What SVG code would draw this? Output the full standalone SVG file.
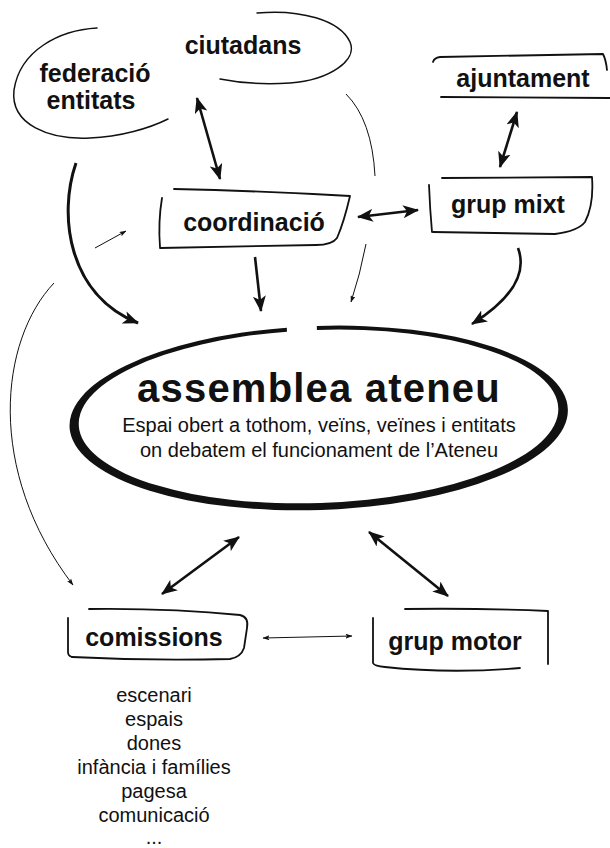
<svg xmlns="http://www.w3.org/2000/svg" width="610" height="848" viewBox="0 0 610 848">
<defs>
<style>
.lbl{font-family:"Liberation Sans",Arial,Helvetica,sans-serif;font-weight:bold;font-size:25px;fill:#111;text-anchor:middle}
.txt{font-family:"Liberation Sans",Arial,Helvetica,sans-serif;font-size:20px;fill:#111;text-anchor:middle}
.title{font-family:"Liberation Sans",Arial,Helvetica,sans-serif;font-weight:bold;font-size:40px;letter-spacing:1.2px;fill:#111;text-anchor:middle}
.shape{fill:none;stroke:#111;stroke-width:1.8;stroke-linecap:round;stroke-linejoin:round}
.bub{fill:none;stroke:#111;stroke-width:1.5;stroke-linecap:round}
.thick{fill:none;stroke:#111;stroke-width:2.6}
.thin{fill:none;stroke:#111;stroke-width:1}
</style>
<marker id="ah" viewBox="0 0 16 13" refX="15" refY="6.5" markerWidth="16" markerHeight="13" markerUnits="userSpaceOnUse" orient="auto-start-reverse">
<path d="M0,0 L16,6.5 L0,13 L4,6.5 Z" fill="#111"/>
</marker>
<marker id="as" viewBox="0 0 7 5" refX="6.5" refY="2.5" markerWidth="7" markerHeight="5" markerUnits="userSpaceOnUse" orient="auto-start-reverse">
<path d="M0,0 L7,2.5 L0,5 L1.5,2.5 Z" fill="#111"/>
</marker>
</defs>
<rect width="610" height="848" fill="#fff"/>

<g id="connectors">
<path class="thick" d="M197,98 L220,179" marker-start="url(#ah)" marker-end="url(#ah)"/>
<path class="thick" style="stroke-width:3" d="M76,163 C58,215 68,295 138,323" marker-end="url(#ah)"/>
<path class="thick" d="M255,257 L261,311" marker-end="url(#ah)"/>
<path class="thin" d="M346,94 Q372,120 375,176"/>
<path class="thin" d="M366,244 Q360,275 351,302" marker-end="url(#as)"/>
<path class="thick" d="M358,217 L418,210" marker-start="url(#ah)" marker-end="url(#ah)"/>
<path class="thick" d="M517,112 L500,167" marker-start="url(#ah)" marker-end="url(#ah)"/>
<path class="thick" d="M518,248 C528,275 510,300 472,324" marker-end="url(#ah)"/>
<path class="thin" d="M54,283 C0,340 -15,470 73,585" marker-end="url(#as)"/>
<path class="thin" d="M95,248 L126,231" marker-end="url(#as)"/>
<path class="thick" d="M239,537 L162,594" marker-start="url(#ah)" marker-end="url(#ah)"/>
<path class="thick" d="M369,532 L448,596" marker-start="url(#ah)" marker-end="url(#ah)"/>
<path class="thin" d="M263,638 L352,636" marker-start="url(#as)" marker-end="url(#as)"/>
</g>

<g id="federacio">
<path class="bub" d="M97,28 C60,30 20,50 14,90 C10,125 50,140 90,138 C120,137 150,128 168,119"/>
<text class="lbl" x="95" y="82">federació</text>
<text class="lbl" x="91" y="109">entitats</text>
</g>

<g id="ciutadans">
<path class="bub" d="M257,13 C300,9 340,20 350,42 C358,60 330,80 290,83 C260,85 235,82 220,79"/>
<text class="lbl" x="243" y="54">ciutadans</text>
</g>

<g id="ajuntament">
<path class="shape" d="M433,62 Q434,58 440,57 L603,54 Q606,60 607,70"/>
<path class="shape" d="M441,97 L610,98"/>
<text class="lbl" x="523" y="87">ajuntament</text>
</g>

<g id="coordinacio">
<path class="shape" d="M174,189 Q262,191 350,196 Q344,222 337,238 Q332,245 316,245 L160,248"/>
<path class="shape" d="M162,198 Q158,222 160,247"/>
<text class="lbl" x="254" y="231">coordinació</text>
</g>

<g id="grup-mixt">
<path class="shape" d="M442,178 L592,177 Q594,205 585,222 Q578,231 555,234 L433,232"/>
<path class="shape" d="M429,185 Q430,210 432,232"/>
<text class="lbl" x="508" y="213">grup mixt</text>
</g>

<g id="assemblea">
<path transform="rotate(-2 318 418)" fill="#111" d="M290,326.6 A249,92 0 0,0 318,510 A249,92 0 0,0 320,326 L320,330 A239.5,86.5 0 0,1 318,503 A239.5,86.5 0 0,1 290,330.6 Z"/>
<text class="title" x="319" y="402">assemblea ateneu</text>
<text class="txt" x="319" y="432">Espai obert a tothom, veïns, veïnes i entitats</text>
<text class="txt" x="319" y="457">on debatem el funcionament de l’Ateneu</text>
</g>

<g id="comissions">
<path class="shape" d="M89,609 Q170,608 240,615 Q249,617 247,628 L244,648 Q241,657 230,659 Q150,661 72,657"/>
<path class="shape" d="M68,618 L68,652 Q68,656 72,657"/>
<text class="lbl" x="154" y="646">comissions</text>
</g>

<g id="grup-motor">
<path class="shape" d="M405,609 Q480,608 548,611 L548,664"/>
<path class="shape" d="M373,618 L373,663 Q374,666 385,667 Q450,674 520,668"/>
<text class="lbl" x="455" y="650">grup motor</text>
</g>

<g id="llista">
<text class="txt" x="154" y="702">escenari</text>
<text class="txt" x="154" y="726">espais</text>
<text class="txt" x="154" y="750">dones</text>
<text class="txt" x="154" y="774">infància i famílies</text>
<text class="txt" x="154" y="798">pagesa</text>
<text class="txt" x="154" y="822">comunicació</text>
<text class="txt" x="154" y="844">...</text>
</g>
</svg>
